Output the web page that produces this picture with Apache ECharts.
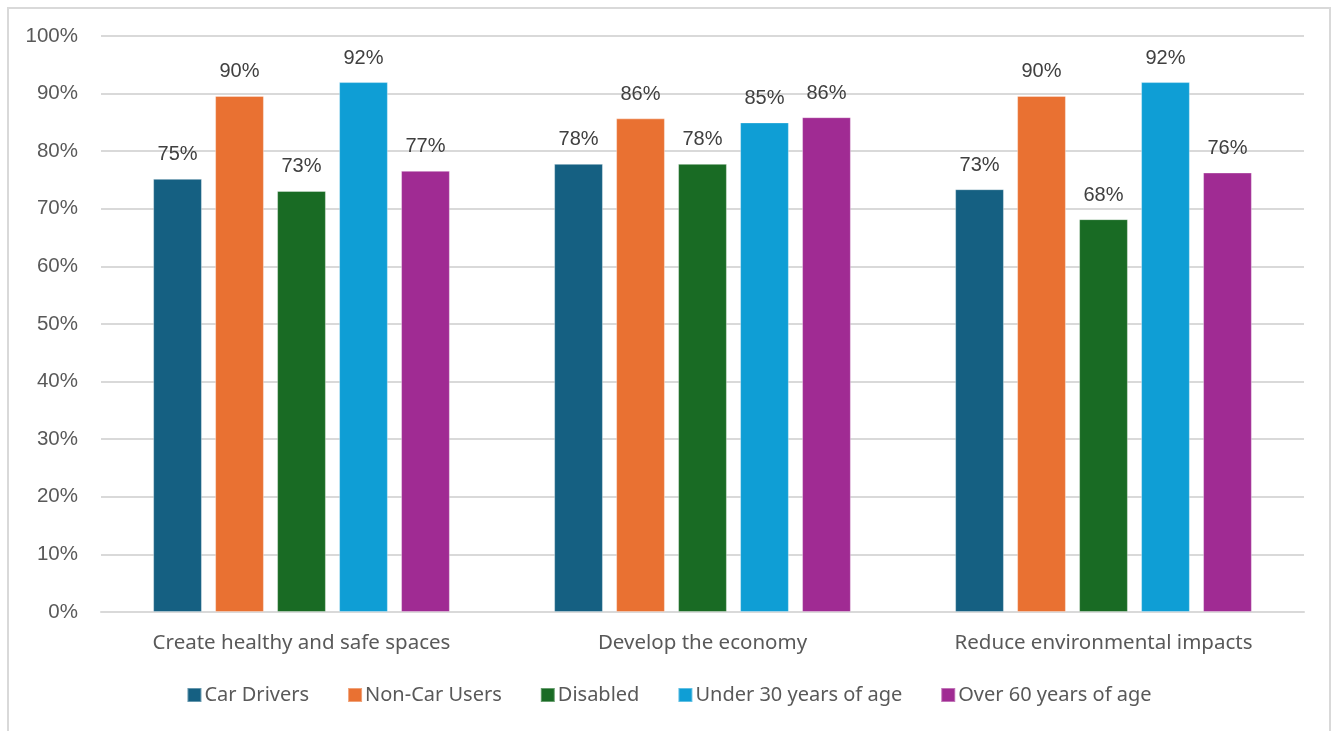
<!DOCTYPE html>
<html>
<head>
<meta charset="utf-8">
<script src="https://cdn.jsdelivr.net/npm/echarts@6/dist/echarts.min.js"></script>
<style>
html,body{margin:0;padding:0;background:#fff;}
#frame{position:absolute;left:7px;top:7px;width:1324px;height:740px;border:2px solid #d9d9d9;box-sizing:border-box;}
#chart{position:absolute;left:0;top:0;width:1338px;height:731px;}
</style>
</head>
<body>
<div id="frame"></div>
<div id="chart"></div>
<script>
const categories = ["Create healthy and safe spaces", "Develop the economy", "Reduce environmental impacts"];
const seriesNames = ["Car Drivers", "Non-Car Users", "Disabled", "Under 30 years of age", "Over 60 years of age"];
const carDrivers = [75.2, 77.8, 73.4];
const nonCarUsers = [89.6, 85.7, 89.6];
const disabled = [73.1, 77.8, 68.2];
const under30 = [92.0, 85.0, 92.0];
const over60 = [76.6, 85.9, 76.3];
const colors = ["#156082", "#E97132", "#196B24", "#0F9ED5", "#A02B93"];
const yTicks = [0, 10, 20, 30, 40, 50, 60, 70, 80, 90, 100];

const values = [carDrivers, nonCarUsers, disabled, under30, over60];
const chart = echarts.init(document.getElementById('chart'));
chart.setOption({
  animation: false,
  grid: {left: 101, right: 34, top: 36, bottom: 119, containLabel: false},
  legend: {
    data: seriesNames,
    bottom: 21,
    left: 'center',
    itemWidth: 14, itemHeight: 14, itemGap: 38,
    icon: 'rect',
    textStyle: {fontFamily: 'Noto Sans', fontSize: 20, color: '#595959', padding: [0,0,0,-2]}
  },
  xAxis: {
    type: 'category',
    data: categories,
    axisLine: {lineStyle: {color: '#d9d9d9', width: 2}},
    axisTick: {show: false},
    axisLabel: {fontFamily: 'Noto Sans', fontSize: 20.5, color: '#595959', margin: 21}
  },
  yAxis: {
    type: 'value',
    min: 0, max: 100, interval: 10,
    axisLine: {show: false},
    axisTick: {show: false},
    splitLine: {lineStyle: {color: '#d9d9d9', width: 2}},
    axisLabel: {fontFamily: 'Liberation Sans', fontSize: 20.5, color: '#595959', margin: 23,
      formatter: v => v + '%'}
  },
  series: seriesNames.map((name, i) => ({
    name: name,
    type: 'bar',
    data: values[i],
    barGap: '27%',
    barCategoryGap: '26%',
    itemStyle: {color: colors[i], borderColor: 'rgba(255,255,255,0.35)', borderWidth: 1},
    label: {show: true, position: 'top', distance: 14, fontFamily: 'Liberation Sans', fontSize: 20,
      color: '#404040', formatter: p => Math.round(p.value) + '%'}
  }))
});
</script>
</body>
</html>
